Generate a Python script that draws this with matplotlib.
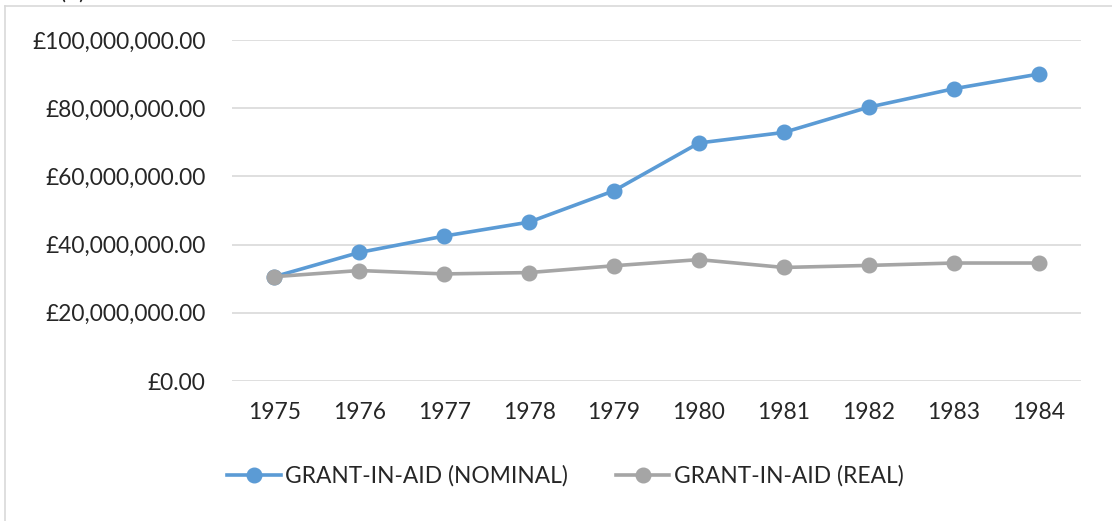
import matplotlib.pyplot as plt
from matplotlib.ticker import FuncFormatter

years = ["1975", "1976", "1977", "1978", "1979", "1980", "1981", "1982", "1983", "1984"]
nominal = [30.6e6, 37.7e6, 42.5e6, 46.6e6, 55.8e6, 69.8e6, 72.9e6, 80.3e6, 85.7e6, 90.0e6]
real = [30.6e6, 32.4e6, 31.4e6, 31.8e6, 33.8e6, 35.6e6, 33.3e6, 33.9e6, 34.6e6, 34.6e6]
series_names = ["GRANT-IN-AID (NOMINAL)", "GRANT-IN-AID (REAL)"]

plt.rcParams['font.family'] = ['Lato', 'DejaVu Sans']
FS = 16.4

fig = plt.figure(figsize=(11.12, 5.21), dpi=100)
ax = fig.add_axes([0.2086, 0.2687, 0.7635, 0.6545])

x = range(len(years))
ax.plot(x, nominal, color="#5b9bd5", lw=2.6, marker="o", ms=10.5, label=series_names[0], zorder=3)
ax.plot(x, real, color="#a5a5a5", lw=2.6, marker="o", ms=10.5, label=series_names[1], zorder=3)

ax.set_xlim(-0.5, len(years) - 0.5)
ax.set_ylim(0, 100e6)
ax.set_yticks([0, 20e6, 40e6, 60e6, 80e6, 100e6])
ax.yaxis.set_major_formatter(FuncFormatter(lambda v, p: "£{:,.2f}".format(v)))
ax.set_xticks(list(x))
ax.set_xticklabels(years)
ax.grid(axis="y", color="#d9d9d9", lw=1.2)
ax.set_axisbelow(True)
for s in ax.spines.values():
    s.set_visible(False)
ax.tick_params(axis="y", length=0, pad=19, labelsize=FS, labelcolor="#262626")
ax.tick_params(axis="x", length=0, pad=15, labelsize=FS, labelcolor="#262626")

fig.legend(loc="center", bbox_to_anchor=(0.5085, 0.086), ncol=2, frameon=False,
           fontsize=FS, handlelength=2.35, columnspacing=2.1, handletextpad=0.2,
           labelcolor="#262626")

# outer chart border (cropped at right and bottom)
fig.add_artist(plt.Line2D([5 / 1112, 5 / 1112], [0, 1 - 6 / 521], transform=fig.transFigure, color="#d9d9d9", lw=1.2))
fig.add_artist(plt.Line2D([5 / 1112, 1], [1 - 6 / 521, 1 - 6 / 521], transform=fig.transFigure, color="#d9d9d9", lw=1.2))
fig.text(73 / 1112, 1 - 3 / 521, "(£)", ha="center", va="bottom", fontsize=FS, color="#262626")

fig.savefig("out.png", dpi=100)
